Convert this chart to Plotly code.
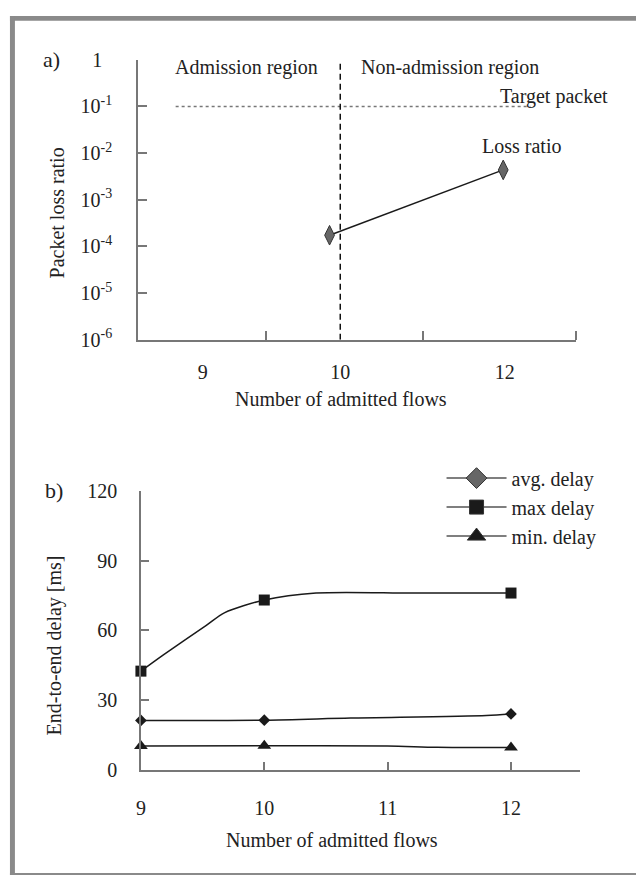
import plotly.graph_objects as go

# ---------------- data ----------------
# panel a: packet loss ratio vs number of admitted flows
loss_flows = [9.87, 11.98]
loss_ratio = [1.73e-4, 4.35e-3]
target_loss = 0.1
admission_limit = 10
a_tick_labels = ["9", "10", "12"]
a_y_ticks = [1e-6, 1e-5, 1e-4, 1e-3, 1e-2, 1e-1, 1]
a_y_labels = ["10<sup>-6</sup>", "10<sup>-5</sup>", "10<sup>-4</sup>", "10<sup>-3</sup>",
              "10<sup>-2</sup>", "10<sup>-1</sup>", "1\u00a0\u00a0"]

# panel b: end-to-end delay (ms)
flows_b = [9, 10, 12]
avg_delay = [21.2, 21.3, 24.0]
max_delay = [42.4, 73.0, 76.0]
min_delay = [10.2, 10.3, 9.5]
# points read along the drawn (smoothed) curves
max_curve_x = [9, 9.185, 9.53, 9.68, 10, 10.42, 11.2, 12]
max_curve_y = [42.4, 49.5, 62.1, 67.6, 73.0, 76.0, 76.0, 76.0]
avg_curve_x = [9, 10, 10.7, 11.8, 12]
avg_curve_y = [21.2, 21.3, 22.2, 23.3, 24.0]
min_curve_x = [9, 10, 11.0, 11.4, 12]
min_curve_y = [10.2, 10.3, 10.2, 9.6, 9.5]
b_x_ticks = [9, 10, 11, 12]
b_y_ticks = [0, 30, 60, 90, 120]

# ---------------- layout helpers ----------------
W, H = 636, 886
def px(p):
    return p / W
def py(p):
    return 1 - p / H

FONT = "Liberation Serif"
TXT = "#222222"
AX = "#777777"
LINE = "#1a1a1a"

fig = go.Figure()

# panel a
fig.add_trace(go.Scatter(
    x=loss_flows, y=loss_ratio, mode="lines+markers",
    line=dict(color=LINE, width=1.5),
    marker=dict(symbol="diamond-tall", size=14, color="#666666",
                line=dict(color="#333333", width=1)),
    xaxis="x", yaxis="y", showlegend=False, cliponaxis=False))

# panel b curves
for cx, cy in [(max_curve_x, max_curve_y), (avg_curve_x, avg_curve_y), (min_curve_x, min_curve_y)]:
    fig.add_trace(go.Scatter(
        x=cx, y=cy, mode="lines", line=dict(color=LINE, width=1.5, shape="spline", smoothing=0.8),
        xaxis="x2", yaxis="y2", showlegend=False, hoverinfo="skip", cliponaxis=False))

# panel b markers
fig.add_trace(go.Scatter(x=flows_b, y=avg_delay, mode="markers",
                         marker=dict(symbol="diamond", size=9, color=LINE),
                         xaxis="x2", yaxis="y2", showlegend=False, cliponaxis=False))
fig.add_trace(go.Scatter(x=flows_b, y=max_delay, mode="markers",
                         marker=dict(symbol="square", size=11, color=LINE),
                         xaxis="x2", yaxis="y2", showlegend=False, cliponaxis=False))
fig.add_trace(go.Scatter(x=flows_b, y=min_delay, mode="markers",
                         marker=dict(symbol="triangle-up", size=12, color=LINE),
                         xaxis="x2", yaxis="y2", showlegend=False, cliponaxis=False))

# legend entries
for name, sym, col, sz in [("avg. delay", "diamond", "#666666", 16),
                           ("max delay", "square", LINE, 14),
                           ("min. delay", "triangle-up", LINE, 16)]:
    fig.add_trace(go.Scatter(x=[None], y=[None], mode="lines+markers", name=name,
                             line=dict(color="#555555", width=1.5),
                             marker=dict(symbol=sym, size=sz, color=col,
                                         line=dict(color="#333333", width=1)),
                             xaxis="x2", yaxis="y2"))

axis_common = dict(showline=True, linecolor=AX, linewidth=1.5, showgrid=False, zeroline=False,
                   tickcolor=AX, tickwidth=1.5, tickfont=dict(family=FONT, size=20, color=TXT),
                   fixedrange=True)

fig.update_layout(
    width=W, height=H, margin=dict(l=0, r=0, t=0, b=0),
    paper_bgcolor="white", plot_bgcolor="white",
    font=dict(family=FONT, size=20, color=TXT),
    xaxis=dict(domain=[px(134), px(576)], range=[7.542, 12.87], anchor="y",
               tickmode="array", tickvals=[8.33, 10, 12], ticktext=a_tick_labels, ticks="",
               ticklabelstandoff=14,
               minor=dict(tickmode="array", tickvals=[9.096, 11.0, 12.865], ticks="inside",
                          ticklen=9, tickcolor=AX, tickwidth=1.5, showgrid=False),
               **axis_common),
    yaxis=dict(domain=[py(337), py(50)], type="log", range=[-6, 0], anchor="x",
               tickmode="array", tickvals=a_y_ticks, ticktext=a_y_labels,
               ticks="inside", ticklen=9, ticklabelstandoff=20, **axis_common),
    xaxis2=dict(domain=[px(137), px(580)], range=[9, 12.563], anchor="y2",
                tickmode="array", tickvals=b_x_ticks, ticks="inside", ticklen=8,
                ticklabelstandoff=20, **axis_common),
    yaxis2=dict(domain=[py(778), py(492)], range=[0, 120], anchor="x2",
                tickmode="array", tickvals=b_y_ticks, ticks="inside", ticklen=8,
                ticklabelstandoff=18, **axis_common),
    legend=dict(x=px(440), y=py(459), xanchor="left", yanchor="top",
                bgcolor="rgba(0,0,0,0)", font=dict(family=FONT, size=20, color=TXT),
                itemwidth=60, tracegroupgap=0),
)

# reference lines in panel a
fig.add_shape(type="line", xref="x", yref="y", x0=8.0, x1=12.31, y0=target_loss, y1=target_loss,
              line=dict(color="#777777", width=1.5, dash="dot"))
fig.add_shape(type="line", xref="x", yref="y", x0=admission_limit, x1=admission_limit,
              y0=1e-6, y1=1, line=dict(color="#111111", width=1.5, dash="6px,4px"))

# frame
for x0, y0, x1, y1 in [(5, 5, 636, 10), (5, 5, 10, 886), (5, 884, 636, 886)]:
    fig.add_shape(type="rect", xref="paper", yref="paper", x0=px(x0), x1=px(x1),
                  y0=py(y1), y1=py(y0), line=dict(width=0), fillcolor="#8a8a8a")

def ann(text, x, y, xanchor="center", angle=0, size=20):
    fig.add_annotation(text=text, xref="paper", yref="paper", x=px(x), y=py(y),
                       xanchor=xanchor, yanchor="middle", showarrow=False, textangle=angle,
                       font=dict(family=FONT, size=size, color=TXT))

ann("a)", 46.5, 50, size=22)
ann("Admission region", 243.5, 58)
ann("Non-admission region", 448.5, 58)
ann("Target packet", 553, 88)
ann("Loss ratio", 521, 138)
ann("Packet loss ratio", 52, 207, angle=-90)
ann("Number of admitted flows", 339, 398)
ann("b)", 49, 492, size=22)
ann("End-to-end delay [ms]", 50, 651, angle=-90)
ann("Number of admitted flows", 330, 850)

fig.write_html("out.html")
